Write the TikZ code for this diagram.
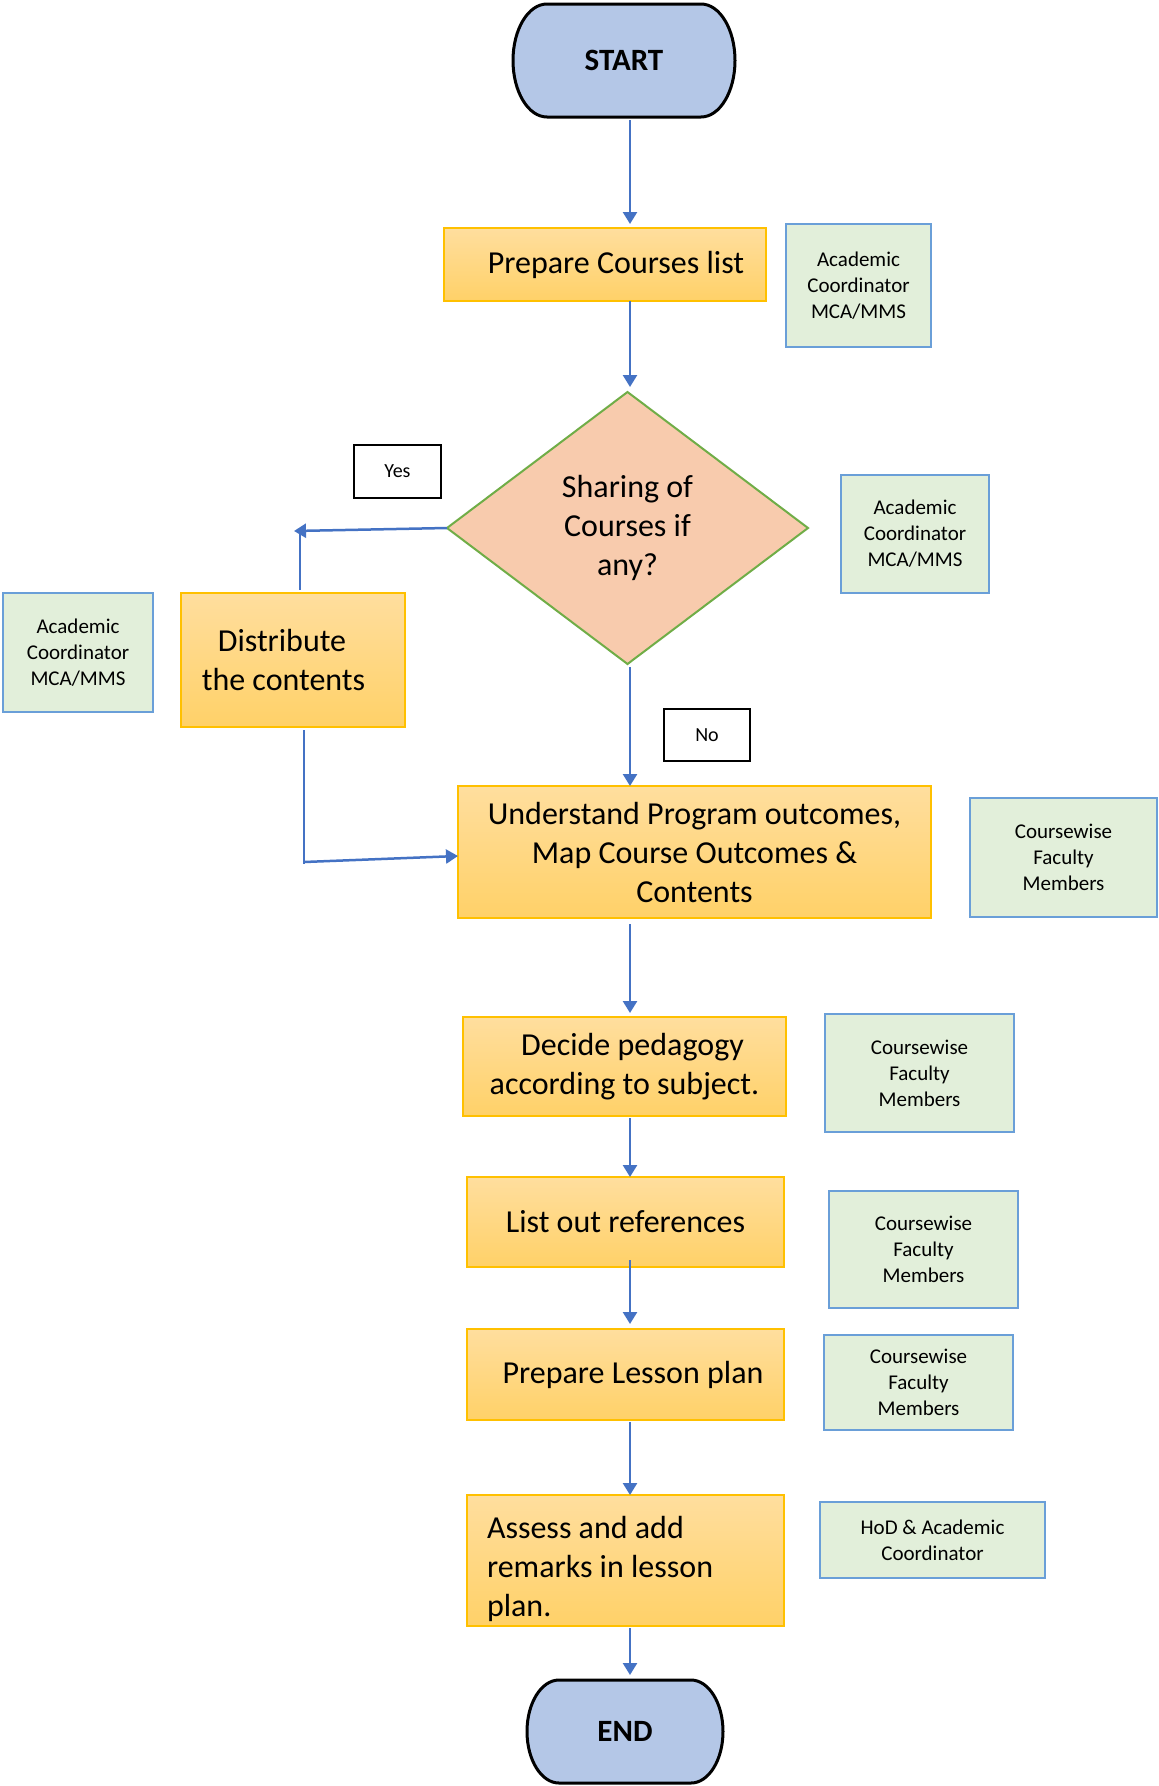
\documentclass[tikz,border=0pt]{standalone}
\usepackage{fontspec}
\setmainfont{Carlito}
\usetikzlibrary{arrows.meta,shapes.geometric,backgrounds}

\definecolor{flowblue}{HTML}{4472C4}
\definecolor{termfill}{HTML}{B4C7E7}
\definecolor{boxedge}{HTML}{FFC000}
\definecolor{boxtop}{RGB}{255,222,158}
\definecolor{boxbot}{RGB}{255,209,104}
\definecolor{decfill}{HTML}{F8CBAD}
\definecolor{decedge}{HTML}{70AD47}
\definecolor{rolefill}{HTML}{E2EFDA}
\definecolor{roleedge}{HTML}{6A9FD8}

% outline of a terminator: straight top and bottom, elliptical ends
% #1 node name, #2 horizontal radius, #3 half height
\newcommand\terminatoroutline[3]{%
  \path[termshape] ([xshift=#2]#1.north west) -- ([xshift=-#2]#1.north east)
    arc[start angle=90, end angle=-90, x radius=#2, y radius=#3]
    -- ([xshift=#2]#1.south west)
    arc[start angle=270, end angle=90, x radius=#2, y radius=#3] -- cycle;}

\begin{document}
\begin{tikzpicture}[x=1pt, y=-1pt,
  every node/.style={inner sep=0pt, outer sep=0pt},
  termtext/.style={font=\fontsize{31}{37}\selectfont\bfseries},
  termshape/.style={draw=black, fill=termfill, line width=3pt},
  process/.style={draw=boxedge, line width=1.5pt, top color=boxtop, bottom color=boxbot,
    align=center, font=\fontsize{32}{39}\selectfont},
  decision/.style={diamond, draw=decedge, fill=decfill, line width=2pt,
    align=center, font=\fontsize{32}{39}\selectfont},
  role/.style={draw=roleedge, fill=rolefill, line width=1.5pt,
    align=center, font=\fontsize{21}{26}\selectfont},
  answer/.style={draw=black, fill=white, line width=2pt, font=\fontsize{20}{24}\selectfont},
  flow/.style={draw=flowblue, line width=2.5pt, -{Triangle[width=14pt,length=12pt]}},
  link/.style={draw=flowblue, line width=1.4pt},
]
\useasboundingbox (0,0) rectangle (1159,1786);

% main column
\node[termtext, minimum width=222pt, minimum height=113pt] (start) at (624,60.5) {START};
\node[process, minimum width=322pt, minimum height=73pt] (courses) at (605,264.5)
  {\rule{22pt}{0pt}Prepare Courses list};
\node[decision, minimum width=361pt, minimum height=272pt] (share) at (627.5,528)
  {Sharing of\\Courses if\\any?};
\node[process, minimum width=224pt, minimum height=134pt] (distribute) at (293,660)
  {Distribute\rule{22pt}{0pt}\\the contents\rule{19pt}{0pt}};
\node[process, minimum width=473pt, minimum height=132pt] (understand) at (694.5,852)
  {Understand Program outcomes,\\Map Course Outcomes \&\\Contents};
\node[process, minimum width=323pt, minimum height=99pt] (pedagogy) at (624.5,1066.5)
  {\rule{16pt}{0pt}Decide pedagogy\\according to subject.};
\node[process, minimum width=317pt, minimum height=90pt] (references) at (625.5,1222)
  {List out references};
\node[process, minimum width=317pt, minimum height=91pt] (lesson) at (625.5,1374.5)
  {\rule{15pt}{0pt}Prepare Lesson plan};
\node[process, minimum width=317pt, minimum height=131pt, align=flush left,
  text width=277pt, inner xsep=20pt] (assess) at (625.5,1560.5)
  {\rule{0pt}{39pt}Assess and add\\remarks in lesson\\plan.};
\node[termtext, minimum width=196pt, minimum height=103pt] (end) at (625,1731.5) {END};

% answer tags
\node[answer, minimum width=87pt, minimum height=53pt] (yes) at (397.5,471.5) {Yes};
\node[answer, minimum width=86pt, minimum height=52pt] (no) at (707,735) {No};

% responsibility boxes
\node[role, minimum width=145pt, minimum height=123pt] (role1) at (858.5,285.5)
  {Academic\\Coordinator\\MCA/MMS};
\node[role, minimum width=148pt, minimum height=118pt] (role2) at (915,534)
  {Academic\\Coordinator\\MCA/MMS};
\node[role, minimum width=150pt, minimum height=119pt] (role3) at (78,652.5)
  {Academic\\Coordinator\\MCA/MMS};
\node[role, minimum width=187pt, minimum height=119pt] (role4) at (1063.5,857.5)
  {Coursewise\\Faculty\\Members};
\node[role, minimum width=189pt, minimum height=118pt] (role5) at (919.5,1073)
  {Coursewise\\Faculty\\Members};
\node[role, minimum width=189pt, minimum height=117pt] (role6) at (923.5,1249.5)
  {Coursewise\\Faculty\\Members};
\node[role, minimum width=189pt, minimum height=95pt] (role7) at (918.5,1382.5)
  {Coursewise\\Faculty\\Members};
\node[role, minimum width=225pt, minimum height=76pt] (role8) at (932.5,1540)
  {HoD \& Academic\\Coordinator};

% connectors down the main column
\coordinate (spine) at (630,0);
\draw[flow] ([yshift=-3pt]start.south -| spine) -- ([yshift=4pt]courses.north -| spine);
\draw[flow] (courses.south -| spine) -- ([yshift=5pt]share.north -| spine);
\draw[flow] ([yshift=-3pt]share.south -| spine) -- (understand.north -| spine);
\draw[flow] ([yshift=-6pt]understand.south -| spine) -- ([yshift=4pt]pedagogy.north -| spine);
\draw[flow] ([yshift=-2pt]pedagogy.south -| spine) -- (references.north -| spine);
\draw[flow] ([yshift=7pt]references.south -| spine) -- ([yshift=5pt]lesson.north -| spine);
\draw[flow] ([yshift=-2pt]lesson.south -| spine) -- (assess.north -| spine);
\draw[flow] ([yshift=-2pt]assess.south -| spine) -- ([yshift=5pt]end.north -| spine);

% "Yes" branch
\coordinate (yestip) at (294,531);
\coordinate (yesdrop) at (300,533);
\draw[flow] (share.west) -- (yestip);
\draw[link] (yesdrop) -- ([yshift=3pt]distribute.north -| yesdrop);

% return from the distribution step
\coordinate (bend) at (304,864);
\draw[link] ([yshift=-3pt]distribute.south -| bend) -- (bend);
\draw[flow] ([yshift=2pt]bend) -- ([yshift=-4pt]understand.west);

% terminator outlines behind their labels
\begin{scope}[on background layer]
  \fill[white] (0,0) rectangle (1159,1786);
  \terminatoroutline{start}{34pt}{56.5pt}
  \terminatoroutline{end}{32pt}{51.5pt}
\end{scope}
\end{tikzpicture}
\end{document}
